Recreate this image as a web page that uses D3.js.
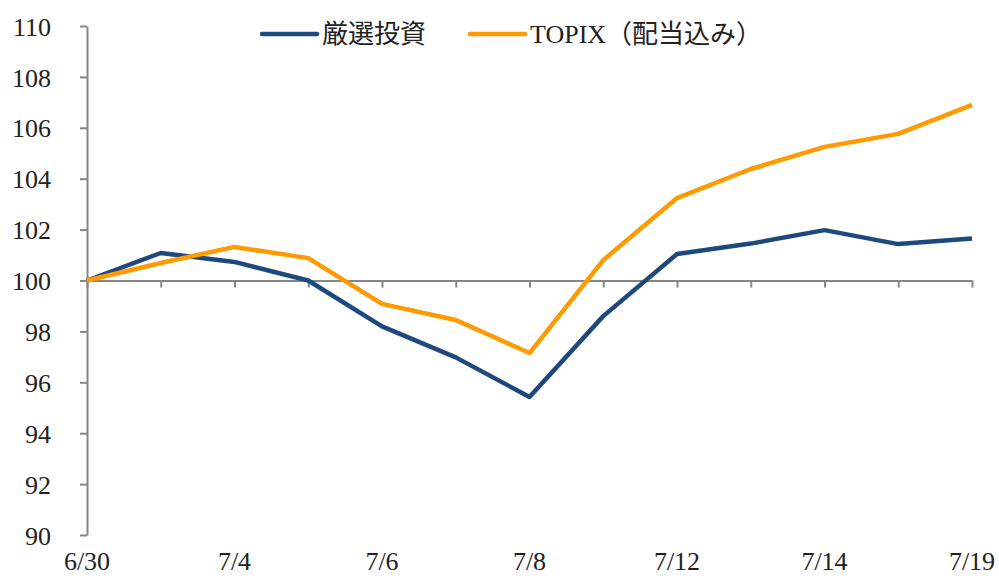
<!DOCTYPE html>
<meta charset="utf-8">
<script src="https://d3js.org/d3.v7.min.js"></script>
<style>
  * { margin: 0; padding: 0; }
  body { background: #fff; }
  .ycustom text { font-family: "Liberation Serif", "Noto Sans CJK JP", serif; font-size: 26px; fill: #222; }
  .xlabel { font-family: "Liberation Serif", "Noto Sans CJK JP", serif; font-size: 26px; fill: #222; }
  .legend text { font-family: "Liberation Serif", "Noto Sans CJK JP", serif; font-size: 26px; fill: #222; }
</style>
<body>
<div id="my_dataviz"></div>
<script>
// dates (trading days)
var dates = ["6/30","7/1","7/4","7/5","7/6","7/7","7/8","7/11","7/12","7/13","7/14","7/15","7/19"];
var shownLabels = ["6/30","7/4","7/6","7/8","7/12","7/14","7/19"];
var yTicks = [90,92,94,96,98,100,102,104,106,108,110];

var gensen = [100, 101.08, 100.73, 100.0, 98.2, 96.98, 95.42, 98.6, 101.04, 101.45, 101.98, 101.43, 101.65];
var topix  = [100, 100.69, 101.32, 100.88, 99.08, 98.45, 97.15, 100.8, 103.24, 104.38, 105.25, 105.76, 106.9];

var seriesNames = ["厳選投資", "TOPIX（配当込み）"];
var colors = ["#1f497d", "#ff9a00"];

var width = 999, height = 576;

var svg = d3.select("#my_dataviz")
  .append("svg")
    .attr("width", width)
    .attr("height", height);

var x = d3.scalePoint()
  .domain(dates)
  .range([87, 972]);

var y = d3.scaleLinear()
  .domain([90, 110])
  .range([535, 26]);

// Y axis
var yAxis = svg.append("g")
  .attr("class", "ycustom")
  .attr("transform", "translate(87,0)")
  .call(d3.axisLeft(y).tickValues(yTicks).tickSize(7).tickPadding(29).tickSizeOuter(0));
yAxis.selectAll("line, path").attr("stroke", "#868686").attr("stroke-width", 2);
yAxis.selectAll("text").attr("dy", "0.35em");

// X axis crossing at 100
var xAxis = svg.append("g")
  .attr("transform", "translate(0," + y(100) + ")")
  .call(d3.axisBottom(x).tickSize(7).tickSizeOuter(0).tickFormat(""));
xAxis.selectAll("line, path").attr("stroke", "#868686").attr("stroke-width", 2);

// X labels at bottom
svg.selectAll(".xlabel")
  .data(shownLabels)
  .enter()
  .append("text")
    .attr("class", "xlabel")
    .attr("x", function(d) { return x(d); })
    .attr("y", 570)
    .attr("text-anchor", "middle")
    .text(function(d) { return d; });

// lines
var line = d3.line()
  .x(function(d, i) { return x(dates[i]); })
  .y(function(d) { return y(d); });

[gensen, topix].forEach(function(s, k) {
  svg.append("path")
    .datum(s)
    .attr("d", line)
    .attr("fill", "none")
    .attr("stroke", colors[k])
    .attr("stroke-width", 4.5)
    .attr("stroke-linejoin", "round");
});

// legend
var legendX = [262, 470];
var legend = svg.append("g").attr("class", "legend");
seriesNames.forEach(function(name, k) {
  legend.append("line")
    .attr("x1", legendX[k]).attr("x2", legendX[k] + 55)
    .attr("y1", 34).attr("y2", 34)
    .attr("stroke", colors[k])
    .attr("stroke-width", 4.5)
    .attr("stroke-linecap", "round");
  legend.append("text")
    .attr("x", legendX[k] + 60)
    .attr("y", 34)
    .attr("dy", "0.36em")
    .text(name);
});
</script>
</body>
